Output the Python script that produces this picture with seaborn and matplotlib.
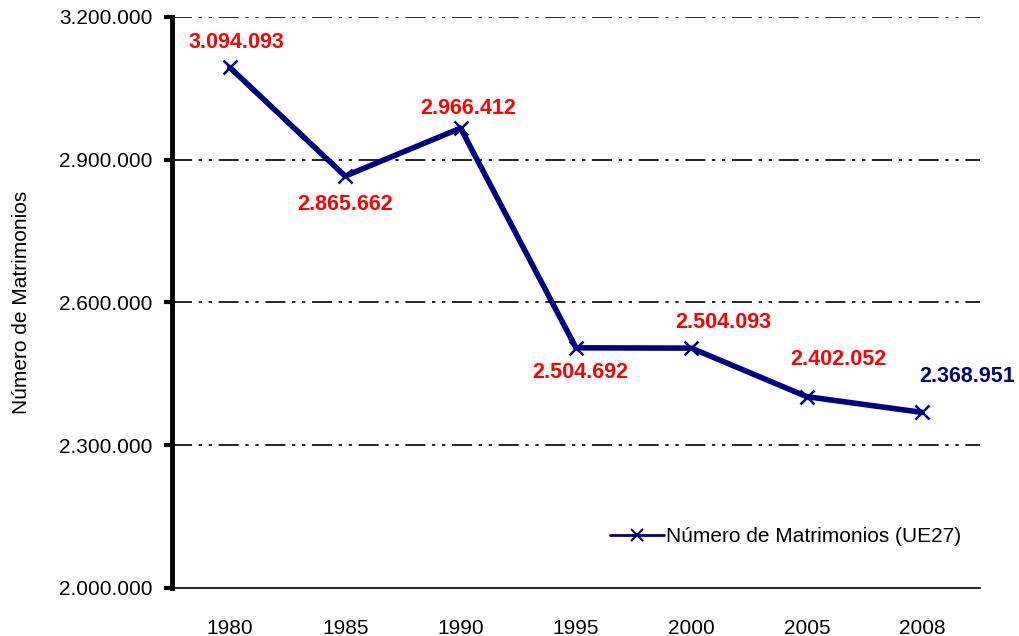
import matplotlib
matplotlib.use("Agg")
import matplotlib.pyplot as plt
from matplotlib.lines import Line2D
import seaborn as sns
import pandas as pd

# data
years = ["1980", "1985", "1990", "1995", "2000", "2005", "2008"]
matrimonios = [3094093, 2865662, 2966412, 2504692, 2504093, 2402052, 2368951]
label_offsets = [(7, 25), (0, -28), (8, 20), (4, -25), (32, 26), (32, 37), (45, 36)]
label_colors = ["red"] * 6 + ["#000080"]

y_ticks = [2000000, 2300000, 2600000, 2900000, 3200000]

def fmt_es(v):
    return f"{v:,}".replace(",", ".")

df = pd.DataFrame({"pos": range(len(years)), "value": matrimonios})

sns.set_style("white")
plt.rcParams["font.family"] = ["Liberation Sans", "DejaVu Sans"]
plt.rcParams["text.color"] = "black"
plt.rcParams["axes.labelcolor"] = "black"

fig = plt.figure(figsize=(10.19, 6.36), dpi=100)
ax = fig.add_axes([0.1688, 0.0755, 0.7929, 0.8978])

sns.lineplot(data=df, x="pos", y="value", ax=ax, color="#000080", linewidth=4,
             marker="x", markersize=10, markeredgewidth=1.8, markeredgecolor="#000080",
             legend=False)

for i, v in enumerate(matrimonios):
    dx, dy = label_offsets[i]
    ax.annotate(fmt_es(v), (i, v), xytext=(dx, dy), textcoords="offset pixels",
                ha="center", va="center", fontsize=15.5, fontweight="bold",
                color=label_colors[i])

ax.set_xlim(-0.5, len(years) - 0.5)
ax.set_ylim(y_ticks[0], y_ticks[-1])
ax.set_xticks(range(len(years)))
ax.set_xticklabels(years, fontsize=15)
ax.set_yticks(y_ticks)
ax.set_yticklabels([fmt_es(t) for t in y_ticks], fontsize=15)
ax.tick_params(axis="x", length=0, pad=22, colors="black")
ax.tick_params(axis="y", direction="out", length=6, width=3, pad=8, left=True, colors="black")

for t in y_ticks[1:]:
    ax.axhline(t, color="black", linestyle=(0, (12, 4, 2, 4, 2, 4)), linewidth=1.2, zorder=0)

ax.spines["top"].set_visible(False)
ax.spines["right"].set_visible(False)
ax.spines["left"].set_linewidth(3.5)
ax.spines["left"].set_color("black")
ax.spines["bottom"].set_linewidth(1.2)
ax.spines["bottom"].set_color("black")

ax.set_xlabel("")
ax.set_ylabel("Número de Matrimonios", fontsize=15, labelpad=20)

handle = Line2D([], [], color="#000080", linewidth=2, marker="x", markersize=8,
                markeredgewidth=1.5)
ax.legend([handle], ["Número de Matrimonios (UE27)"], loc="center right",
          bbox_to_anchor=(1.0, 0.09), frameon=False, fontsize=15,
          handlelength=2.6, handletextpad=0.1)

fig.savefig("out.png", dpi=100)
